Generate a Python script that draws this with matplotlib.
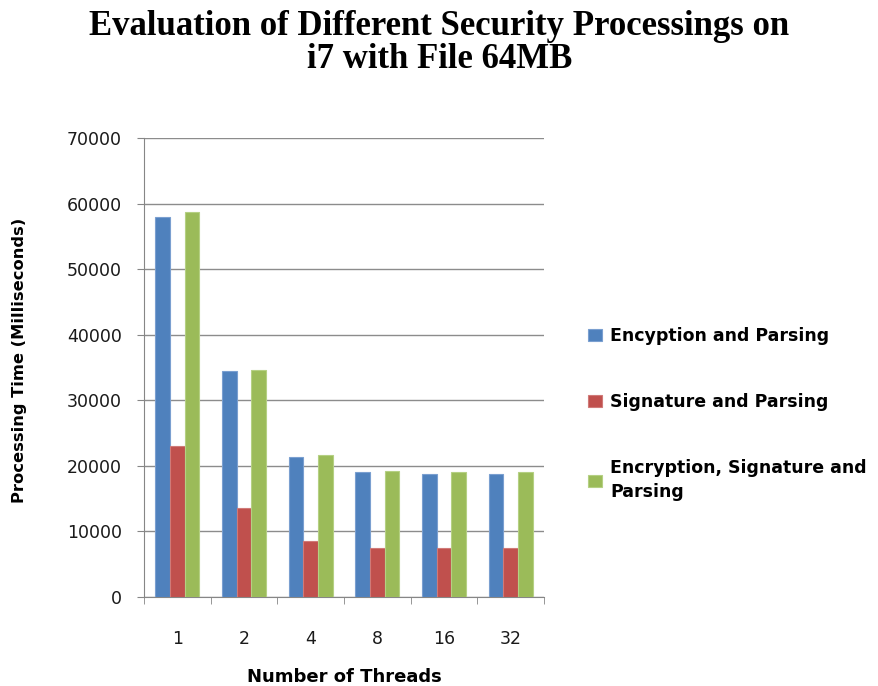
import numpy as np
import matplotlib
matplotlib.use("Agg")
import matplotlib.pyplot as plt

threads = ['1', '2', '4', '8', '16', '32']
enc_parsing = [58000, 34400, 21300, 19000, 18800, 18800]
sig_parsing = [23100, 13600, 8600, 7500, 7500, 7500]
enc_sig_parsing = [58700, 34600, 21600, 19200, 19000, 19000]
series_names = ['Encyption and Parsing', 'Signature and Parsing',
                'Encryption, Signature and\nParsing']
colori = ['#4F81BD', '#C0504D', '#9BBB59']
bordi = ['#7A9FD0', '#D07A78', '#B5D083']

fig = plt.figure(figsize=(8.79, 6.86), dpi=100)
ax = fig.add_axes([0.1638, 0.1297, 0.4551, 0.6691])

x = np.arange(len(threads))
w = 0.22
for i, (vals, nome) in enumerate(zip([enc_parsing, sig_parsing, enc_sig_parsing], series_names)):
    ax.bar(x + (i - 1) * w, vals, w, color=colori[i], edgecolor=bordi[i],
           linewidth=0.8, label=nome, zorder=3)

ax.set_xlim(-0.5, len(threads) - 0.5)
ax.set_ylim(0, 70000)
ax.set_yticks(range(0, 70001, 10000))
ax.set_xticks(x)
ax.set_xticklabels(threads)
ax.set_xticks(np.arange(-0.5, len(threads)), minor=True)
ax.tick_params(axis='x', which='major', length=0, pad=24, labelsize=12.5, labelcolor='#1a1a1a')
ax.tick_params(axis='x', which='minor', length=5, color='#868686', direction='out')
ax.tick_params(axis='y', length=5, color='#868686', direction='out', pad=11,
               labelsize=12.5, labelcolor='#1a1a1a')
ax.grid(axis='y', color='#8C8C8C', linewidth=1.0, zorder=0)
for s in ['top', 'right']:
    ax.spines[s].set_visible(False)
for s in ['left', 'bottom']:
    ax.spines[s].set_color('#868686')

ax.set_xlabel('Number of Threads', fontsize=13, fontweight='bold', va='center')
ax.xaxis.set_label_coords(0.5, -0.174)
ax.set_ylabel('Processing Time (Milliseconds)', fontsize=11.7, fontweight='bold', va='center')
ax.yaxis.set_label_coords(-0.31, 0.516)

fig.suptitle('Evaluation of Different Security Processings on\ni7 with File 64MB',
             fontfamily='Liberation Serif', fontweight='bold', fontsize=25,
             x=0.5, y=0.985, linespacing=1.0)

leg = fig.legend(loc='center left', bbox_to_anchor=(0.651, 0.396), frameon=False,
                 prop={'weight': 'bold', 'size': 12.5},
                 handlelength=0.8, handleheight=0.7, handletextpad=0.5, labelspacing=2.75)
for t in leg.get_texts():
    t.set_linespacing(1.45)

plt.savefig('out.png', dpi=100)
